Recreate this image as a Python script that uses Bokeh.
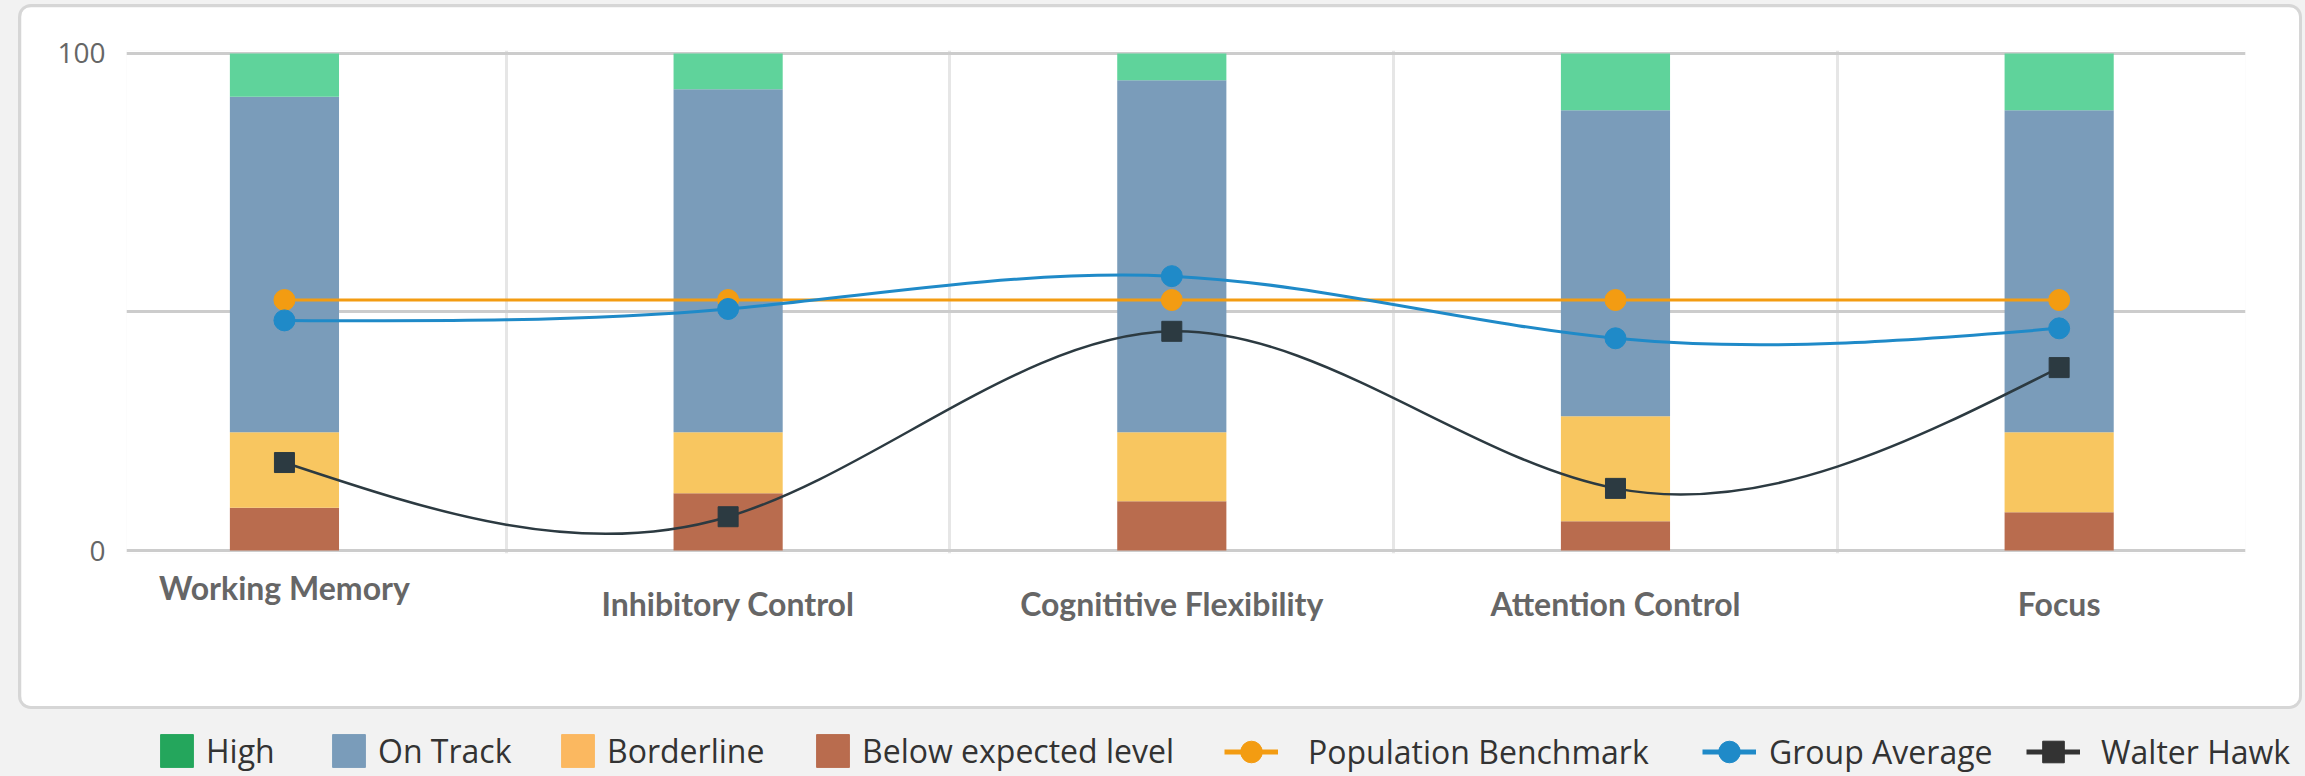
from bokeh.plotting import figure
from bokeh.models import (ColumnDataSource, Range1d, FixedTicker, Legend,
                          LegendItem, GlobalInlineStyleSheet)
from bokeh.layouts import column
from bokeh.embed import file_html
from bokeh.resources import INLINE

# ---------------- data ----------------
categories = ["Working Memory", "Inhibitory Control", "Cognititive Flexibility",
              "Attention Control", "Focus"]
below_expected = [8.6, 11.5, 9.9, 5.9, 7.7]
borderline = [15.2, 12.3, 13.9, 21.1, 16.1]
on_track = [67.5, 69.0, 70.8, 61.6, 64.8]
high = [8.7, 7.2, 5.4, 11.4, 11.4]
population_benchmark = [50.4, 50.4, 50.4, 50.4, 50.4]
group_average = [46.3, 48.6, 55.2, 42.7, 44.7]
walter_hawk = [17.7, 6.8, 44.1, 12.5, 36.8]
y_ticks = [0, 48, 100]
y_tick_labels = ["0", "", "100"]

bar_colors = ["#b96c4e", "#f8c660", "#7a9cba", "#5fd39b"]
legend_bar_names = ["High", "On Track", "Borderline", "Below expected level"]
legend_bar_colors = ["#24a65c", "#7a9cba", "#fbb860", "#b96c4e"]
line_names = ["Population Benchmark", "Group Average", "Walter Hawk"]
line_colors = ["#f39c12", "#1f8ac8", "#2c3a41"]
legend_line_colors = ["#f39c12", "#1f8ac8", "#333333"]

xs = list(range(len(categories)))


def natural_spline_bezier(x, y):
    n = len(x)
    h = [x[i + 1] - x[i] for i in range(n - 1)]
    M = [0.0] * n
    if n > 2:
        a, b, c, d = [], [], [], []
        for i in range(1, n - 1):
            a.append(h[i - 1]); b.append(2 * (h[i - 1] + h[i])); c.append(h[i])
            d.append(6 * ((y[i + 1] - y[i]) / h[i] - (y[i] - y[i - 1]) / h[i - 1]))
        m = len(b)
        cp = [0.0] * m; dp = [0.0] * m
        cp[0] = c[0] / b[0]; dp[0] = d[0] / b[0]
        for i in range(1, m):
            den = b[i] - a[i] * cp[i - 1]
            cp[i] = c[i] / den
            dp[i] = (d[i] - a[i] * dp[i - 1]) / den
        sol = [0.0] * m
        sol[-1] = dp[-1]
        for i in range(m - 2, -1, -1):
            sol[i] = dp[i] - cp[i] * sol[i + 1]
        M[1:n - 1] = sol
    seg = dict(x0=[], y0=[], x1=[], y1=[], cx0=[], cy0=[], cx1=[], cy1=[])
    for i in range(n - 1):
        hi = h[i]
        slope = (y[i + 1] - y[i]) / hi
        d0 = slope - hi * (2 * M[i] + M[i + 1]) / 6
        d1 = slope + hi * (M[i] + 2 * M[i + 1]) / 6
        seg["x0"].append(x[i]); seg["y0"].append(y[i])
        seg["x1"].append(x[i + 1]); seg["y1"].append(y[i + 1])
        seg["cx0"].append(x[i] + hi / 3); seg["cy0"].append(y[i] + d0 * hi / 3)
        seg["cx1"].append(x[i + 1] - hi / 3); seg["cy1"].append(y[i + 1] - d1 * hi / 3)
    return seg


# ---------------- main chart (white panel) ----------------
p = figure(width=2278, height=699,
           x_range=Range1d(-0.356, 4.42), y_range=Range1d(-0.6, 100.6),
           output_backend="svg", toolbar_location=None,
           min_border_left=105, min_border_right=54, min_border_top=43, min_border_bottom=153,
           background_fill_color="white", border_fill_color="white",
           outline_line_color=None, frame_align=False,
           styles={"box-shadow": "0 0 0 3px #d6d6d6", "border-radius": "10px",
                   "overflow": "hidden"},
           margin=(7, 0, 0, 21))

src = ColumnDataSource(dict(x=xs, below=below_expected, border=borderline,
                            ontrack=on_track, high=high))
p.vbar_stack(["below", "border", "ontrack", "high"], x="x", width=0.246,
             color=bar_colors, line_color=None, source=src)

series = [population_benchmark, group_average, walter_hawk]
widths = [3, 3, 2.5]
for vals, col, w in zip(series, line_colors, widths):
    seg = natural_spline_bezier(xs, vals)
    p.bezier(x0="x0", y0="y0", x1="x1", y1="y1", cx0="cx0", cy0="cy0",
             cx1="cx1", cy1="cy1", line_color=col, line_width=w,
             source=ColumnDataSource(seg))

p.scatter(xs, population_benchmark, marker="circle", size=21, color=line_colors[0])
p.scatter(xs, group_average, marker="circle", size=21, color=line_colors[1])
p.scatter(xs, walter_hawk, marker="square", size=20, color=line_colors[2])

# y axis
p.yaxis.ticker = FixedTicker(ticks=y_ticks)
p.yaxis.major_label_overrides = {t: l for t, l in zip(y_ticks, y_tick_labels)}
p.yaxis.axis_line_color = None
p.yaxis.major_tick_line_color = None
p.yaxis.minor_tick_line_color = None
p.yaxis.major_label_standoff = 15
p.yaxis.major_label_text_font = "Open Sans"
p.yaxis.major_label_text_font_size = "28px"
p.yaxis.major_label_text_color = "#666666"

# x axis: first category label sits a little higher (staggered)
p.xaxis.ticker = FixedTicker(ticks=xs)
p.xaxis.major_label_overrides = {i: (c if i == 0 else "\n" + c) for i, c in zip(xs, categories)}
p.xaxis.axis_line_color = None
p.xaxis.major_tick_line_color = None
p.xaxis.minor_tick_line_color = None
p.xaxis.major_label_standoff = 8
p.xaxis.major_label_text_line_height = 0.42
p.xaxis.major_label_text_font = "Lato"
p.xaxis.major_label_text_font_style = "bold"
p.xaxis.major_label_text_font_size = "32px"
p.xaxis.major_label_text_color = "#666666"

p.ygrid.ticker = FixedTicker(ticks=y_ticks)
p.ygrid.grid_line_color = "#cccccc"
p.ygrid.grid_line_width = 3
p.xgrid.ticker = FixedTicker(ticks=[i + 0.5 for i in xs[:-1]])
p.xgrid.grid_line_color = "#e6e6e6"
p.xgrid.grid_line_width = 3

# ---------------- legend strip ----------------
p2 = figure(width=2302, height=64, x_range=Range1d(0, 1), y_range=Range1d(0, 1),
            x_axis_type=None, y_axis_type=None, toolbar_location=None,
            output_backend="svg", frame_align=False,
            min_border_left=0, min_border_right=0, min_border_top=0, min_border_bottom=0,
            border_fill_color="#f2f2f2", background_fill_color="#f2f2f2",
            outline_line_color=None, margin=(3, 0, 0, 0))
nan = float("nan")
common = dict(orientation="horizontal", padding=0, margin=0, border_line_color=None,
              background_fill_alpha=0, label_text_font="Open Sans",
              label_text_font_size="32px", label_text_color="#333333")

bar_legend_x = [156, 328, 557, 812]
for name, col, lx in zip(legend_bar_names, legend_bar_colors, bar_legend_x):
    r = p2.vbar(x=[nan], top=[nan], width=0.1, color=col)
    p2.add_layout(Legend(items=[LegendItem(label=name, renderers=[r])],
                         location=(lx, 1), glyph_width=41, glyph_height=41,
                         label_standoff=9, **common))

markers = ["circle", "circle", "square"]
line_legend_x = [1224, 1702, 2026]
line_legend_standoff = [30, 13, 21]
for name, col, mk, lx, so in zip(line_names, legend_line_colors, markers,
                                 line_legend_x, line_legend_standoff):
    rl = p2.line(x=[nan], y=[nan], line_color=col, line_width=5)
    rs = p2.scatter(x=[nan], y=[nan], marker=mk, size=10, color=col)
    p2.add_layout(Legend(items=[LegendItem(label=name, renderers=[rl, rs])],
                         location=(lx, -7), glyph_width=54, glyph_height=57,
                         label_standoff=so, **common))

layout = column(p, p2, spacing=0,
                styles={"background-color": "#f2f2f2"},
                stylesheets=[GlobalInlineStyleSheet(
                    css="html, body { background-color: #f2f2f2; }")])

open("out.html", "w").write(file_html(layout, INLINE))
